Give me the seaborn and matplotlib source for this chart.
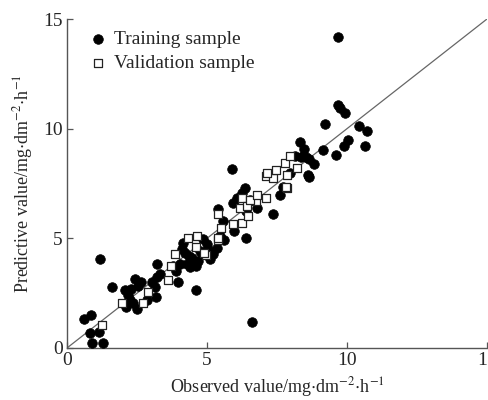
import matplotlib
matplotlib.use("Agg")
import matplotlib.pyplot as plt
import seaborn as sns
import pandas as pd

# Training sample (filled circles)
train_x = [9.68, 9.67, 9.74, 9.92, 9.22, 10.44, 10.72, 10.04, 9.90, 10.66, 9.61, 9.14,
           8.31, 8.45, 8.54, 8.81, 8.63, 8.15, 8.59, 8.66, 5.91, 7.61, 7.73, 7.34,
           6.36, 6.24, 6.06, 5.94, 6.40, 6.78, 5.41, 5.58, 5.97, 6.40, 5.62, 5.35,
           5.23, 4.87, 4.99, 4.81, 4.69, 4.51, 4.39, 4.27, 4.15, 4.09, 4.21, 4.03,
           3.91, 3.79, 3.97, 4.59, 5.11, 3.22, 3.20, 3.32, 3.14, 3.17, 2.42, 2.66,
           2.54, 2.06, 2.18, 2.24, 2.36, 2.51, 2.12, 1.59, 1.17, 0.61, 0.85, 0.81,
           1.15, 0.91, 1.29, 6.62, 4.45, 4.75, 4.60, 4.35, 3.05, 2.30, 2.85, 5.05,
           5.45, 7.95, 8.35, 6.55]
train_y = [14.16, 11.07, 10.92, 10.71, 10.23, 10.14, 9.91, 9.49, 9.19, 9.20, 8.78, 9.05,
           9.41, 9.08, 8.71, 8.41, 8.63, 8.75, 7.88, 7.81, 8.18, 6.98, 7.36, 6.11,
           7.28, 7.06, 6.83, 6.61, 6.26, 6.38, 6.35, 5.78, 5.33, 5.03, 4.92, 4.58,
           4.28, 4.95, 4.73, 4.28, 3.98, 3.83, 3.68, 3.83, 4.80, 4.50, 4.35, 3.83,
           3.53, 3.75, 3.00, 2.63, 4.05, 3.83, 3.23, 3.38, 2.78, 2.33, 3.15, 3.00,
           2.81, 2.63, 2.40, 2.18, 2.03, 1.80, 1.88, 2.78, 4.05, 1.31, 1.50, 0.68,
           0.75, 0.23, 0.23, 1.17, 4.10, 4.40, 3.75, 4.20, 3.00, 2.70, 2.20, 4.50,
           5.10, 8.00, 8.70, 6.75]

# Validation sample (open squares)
val_x = [1.25, 1.95, 2.72, 2.90, 3.59, 3.71, 3.85, 4.33, 4.63, 4.61, 4.95, 4.91,
         5.38, 5.41, 5.51, 5.92, 6.24, 6.18, 6.24, 6.48, 6.75, 7.10, 5.41, 6.43,
         6.55, 6.79, 7.11, 7.37, 7.46, 7.79, 7.97, 8.23, 7.85, 7.85, 7.82, 7.14]
val_y = [1.05, 2.06, 2.03, 2.55, 3.08, 3.75, 4.28, 5.03, 5.11, 4.61, 4.25, 4.32,
         4.94, 6.13, 5.48, 5.66, 5.71, 6.38, 6.83, 6.01, 6.71, 6.83, 5.00, 6.47,
         6.75, 6.98, 7.85, 7.73, 8.11, 8.44, 8.75, 8.21, 7.88, 7.28, 7.36, 7.97]

ticks = [0, 5, 10, 15]
x_label = r"Observed value/mg$\cdot$dm$^{\mathsf{-}2}$$\cdot$h$^{\mathsf{-}1}$"
y_label = r"Predictive value/mg$\cdot$dm$^{\mathsf{-}2}$$\cdot$h$^{\mathsf{-}1}$"

sns.set_style("ticks")
plt.rcParams["font.family"] = ["Liberation Serif", "DejaVu Serif"]
plt.rcParams["mathtext.fontset"] = "stix"

fig = plt.figure(figsize=(4.89, 4.0), dpi=100)
ax = fig.add_axes([67 / 489, 1 - 348 / 400, 420 / 489, 329 / 400])

train = pd.DataFrame({"x": train_x, "y": train_y})
val = pd.DataFrame({"x": val_x, "y": val_y})

ax.plot(ticks[::3], ticks[::3], color="#666666", lw=0.9, zorder=1)
sns.scatterplot(data=train, x="x", y="y", ax=ax, marker="o", s=48, color="black",
                edgecolor="black", linewidth=0.5, label="Training sample", zorder=3)
sns.scatterplot(data=val, x="x", y="y", ax=ax, marker="s", s=38, facecolor="white",
                edgecolor="#222222", linewidth=0.9, label="Validation sample", zorder=4)

ax.set_xlim(0, 15)
ax.set_ylim(0, 15)
ax.set_xticks(ticks)
ax.set_yticks(ticks)
ax.tick_params(direction="in", length=4, width=0.9, color="#555555",
               labelsize=14, pad=3)
for s in ["top", "right"]:
    ax.spines[s].set_visible(False)
for s in ["left", "bottom"]:
    ax.spines[s].set_color("#555555")
    ax.spines[s].set_linewidth(1.0)

ax.set_xlabel(x_label, fontsize=13, labelpad=4)
ax.set_ylabel(y_label, fontsize=13, labelpad=6)

ax.legend(loc="upper left", frameon=False, fontsize=14, handletextpad=0.3,
          labelspacing=0.3, borderaxespad=0.2, handlelength=1.0,
          bbox_to_anchor=(0.023, 1.0))

fig.savefig("out.png", dpi=100)
